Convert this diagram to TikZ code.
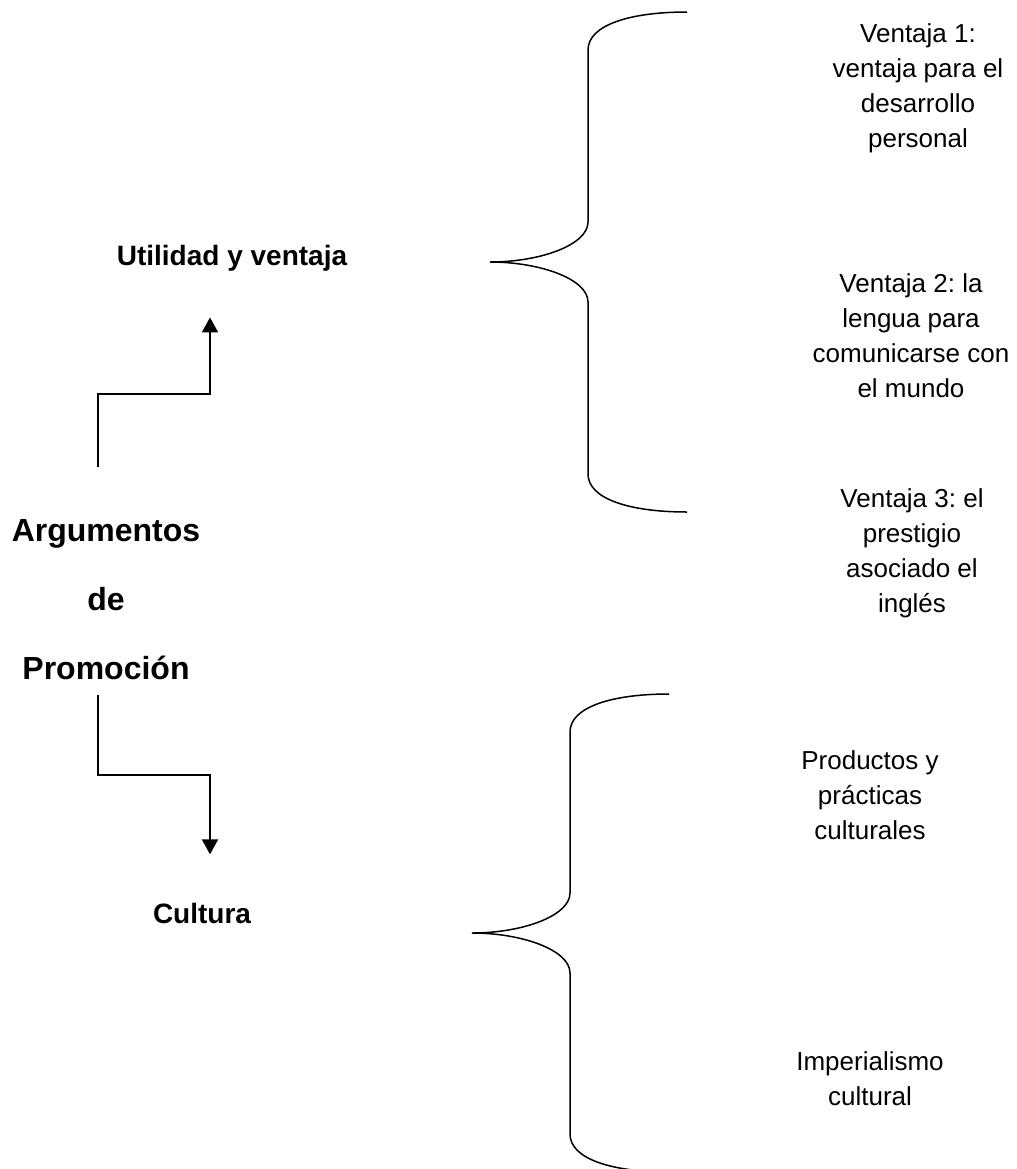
\documentclass[tikz,border=0pt]{standalone}
\usepackage{fontspec}
\setmainfont{Liberation Sans}
\usetikzlibrary{calc,positioning,arrows.meta}
\frenchspacing

\begin{document}
\begin{tikzpicture}[
x=0.5pt,y=-0.5pt,
>={Triangle[length=7.5pt,width=8pt]},
title/.style={
	inner sep=0pt,
	align=center,
	font=\fontsize{16}{34.5}\selectfont\bfseries
},
branch/.style={
	inner sep=0pt,
	font=\fontsize{14}{17}\selectfont\bfseries
},
item/.style={
	inner sep=0pt,
	align=center,
	font=\fontsize{13}{17.5}\selectfont
},
flow/.style={
	->,
	line width=1pt
},
curly/.style={
	line width=0.75pt
}
]
\useasboundingbox (0,0) rectangle (1017,1169);

\node[title] (arg) at (106,600) {Argumentos\\de\\Promoción};
\node[branch] (util) at (232,258) {Utilidad y ventaja};
\node[branch] (cult) at (202,913) {Cultura};

\draw[flow] ($(arg.north)+(-8,-52)$) -- ++(0,-73) -| ($(util.south)+(-22,46)$);
\draw[flow] ($(arg.south)+(-8,14)$) -- ++(0,80) -| ($(cult.north)+(8,-48)$);

% braces: tip x / tip y / half height
\foreach \tx/\ty/\h in {490/262/250,472/933/239}
\draw[curly] (\tx+197,\ty-\h) .. controls (\tx+140,\ty-\h) and (\tx+98,\ty-\h+13) .. (\tx+98,\ty-\h+38)
	-- (\tx+98,\ty-40) .. controls (\tx+98,\ty-17) and (\tx+50,\ty) .. (\tx,\ty)
	.. controls (\tx+50,\ty) and (\tx+98,\ty+17) .. (\tx+98,\ty+40)
	-- (\tx+98,\ty+\h-38) .. controls (\tx+98,\ty+\h-13) and (\tx+140,\ty+\h) .. (\tx+197,\ty+\h);

\node[item] (v1) at (918,88) {Ventaja 1:\\ventaja para el\\desarrollo\\personal};
\node[item] (v2) at (911,336) {Ventaja 2: la\\lengua para\\comunicarse con\\el mundo};
\node[item] (v3) at (912,553) {Ventaja 3: el\\prestigio\\asociado el\\inglés};
\node[item] (c1) at (870,795) {Productos y\\prácticas\\culturales};
\node[item] (c2) at (870,1079) {Imperialismo\\cultural};
\end{tikzpicture}
\end{document}
